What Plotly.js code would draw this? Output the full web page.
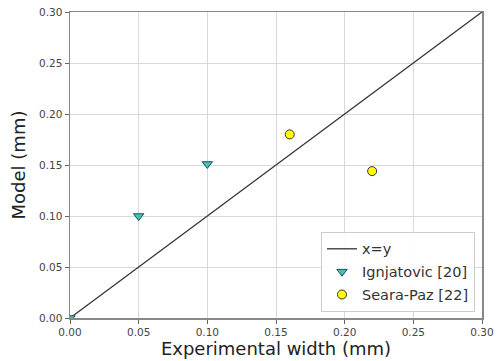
<!DOCTYPE html>
<html><head><meta charset="utf-8">
<script src="https://cdn.plot.ly/plotly-3.0.1.min.js"></script>
<style>html,body{margin:0;padding:0;background:#fff}#c{width:499px;height:361px}</style>
</head><body><div id="c"></div>
<script>
const lineX = [0, 0.30];
const lineY = [0, 0.30];
const ignX = [0.00, 0.05, 0.10];
const ignY = [0.00, 0.100, 0.151];
const seaX = [0.16, 0.22];
const seaY = [0.180, 0.144];
const tickVals = [0, 0.05, 0.10, 0.15, 0.20, 0.25, 0.30];
const tickText = ['0.00','0.05','0.10','0.15','0.20','0.25','0.30'];

const traces = [
  {x: lineX, y: lineY, mode: 'lines', name: 'x=y', legendgroup: 'a', line: {color: '#333', width: 1.3}},
  {x: ignX, y: ignY, mode: 'markers', name: 'Ignjatovic [20]', legendgroup: 'b',
   marker: {symbol: 'triangle-down', size: 9, color: '#40c4c0', line: {color: '#1f4f4f', width: 1}}},
  {x: seaX, y: seaY, mode: 'markers', name: 'Seara-Paz [22]', legendgroup: 'c',
   marker: {symbol: 'circle', size: 9, color: '#ffff00', line: {color: '#333', width: 1}}}
];
const axisCommon = {
  range: [0, 0.30], tickvals: tickVals, ticktext: tickText,
  showgrid: true, gridcolor: '#d9d9d9', gridwidth: 1,
  showline: true, linecolor: '#888', linewidth: 1.5, mirror: true,
  ticks: 'outside', ticklen: 4, tickcolor: '#666', tickwidth: 1,
  zeroline: false, tickfont: {family: 'DejaVu Sans', size: 10.5, color: '#444'}
};
const layout = {
  width: 499, height: 361,
  margin: {l: 70, r: 17, t: 12, b: 43},
  paper_bgcolor: '#fff', plot_bgcolor: '#fff',
  showlegend: true,
  xaxis: Object.assign({}, axisCommon, {title: {text: 'Experimental width (mm)', font: {family: 'DejaVu Sans', size: 18, color: '#222'}, standoff: 3}}),
  yaxis: Object.assign({}, axisCommon, {title: {text: 'Model (mm)', font: {family: 'DejaVu Sans', size: 18, color: '#222'}, standoff: 8}}),
  legend: {x: 0.983, y: 0.02, xanchor: 'right', yanchor: 'bottom',
    bgcolor: 'rgba(255,255,255,0.85)', bordercolor: '#ccc', borderwidth: 1,
    font: {family: 'DejaVu Sans', size: 14.5, color: '#333'}, tracegroupgap: 1}
};
Plotly.newPlot('c', traces, layout, {displayModeBar: false, staticPlot: true});
</script>
</body></html>
